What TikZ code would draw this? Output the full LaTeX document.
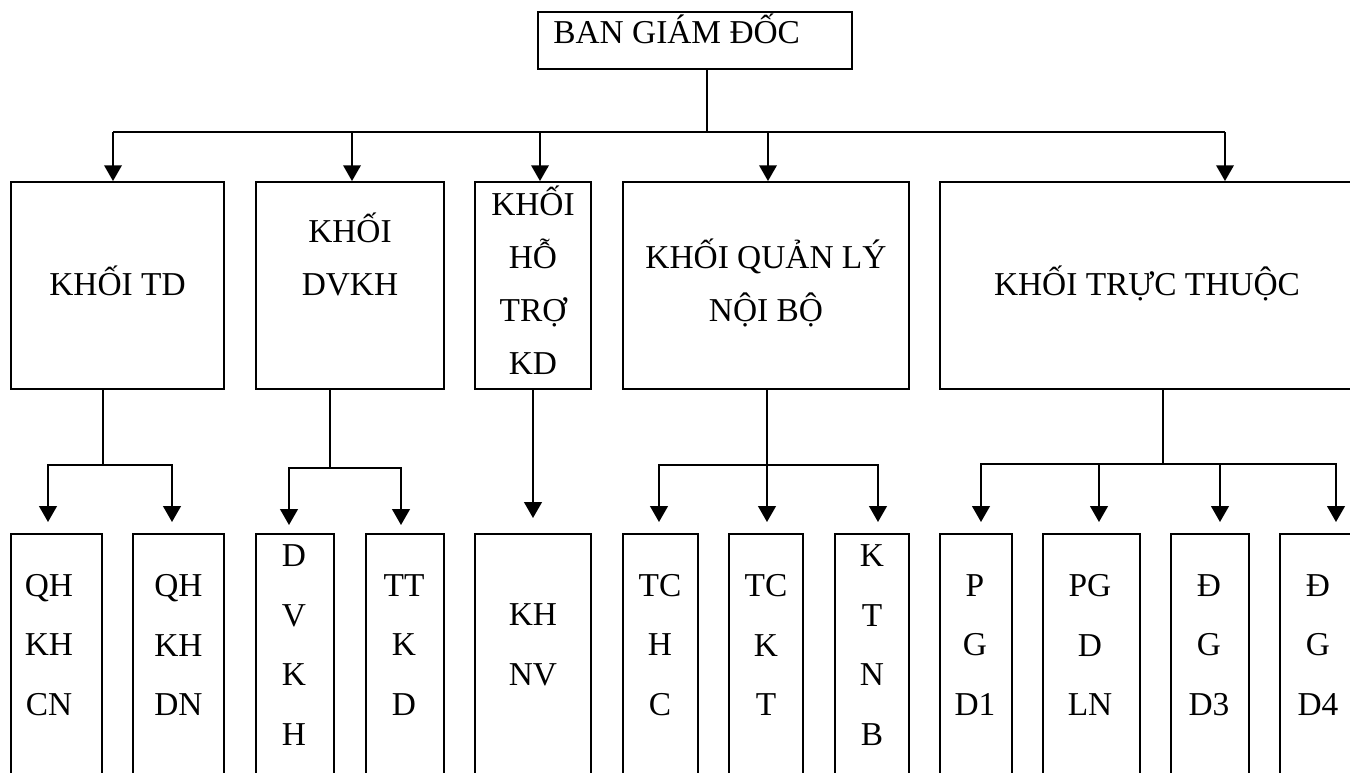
\documentclass[tikz,border=0pt]{standalone}
\usepackage{fontspec}
\setmainfont{Liberation Serif}
\usetikzlibrary{arrows.meta}

\tikzset{
  box/.style={draw, line width=1.1pt, inner sep=0pt, align=center,
    minimum height=4.14cm, font=\fontsize{19}{30}\selectfont,
    execute at end node={\rule[-6pt]{0pt}{0pt}}},
  cell/.style={draw, line width=1.1pt, inner sep=0pt, minimum height=5.72cm},
  celltext/.style={align=center, inner sep=0pt, font=\fontsize{19}{34}\selectfont},
  link/.style={line width=1.1pt},
  stem/.style={line width=0.7pt},
  arr/.style={line width=1.1pt, -{Triangle[width=10pt,length=9pt]}}
}

\begin{document}
\begin{tikzpicture}[x=0.02cm, y=-0.02cm]
\useasboundingbox (0,0) rectangle (1350,772);
\clip (0,0) rectangle (1350,772);

% Ban giam doc
\node[draw, line width=1.1pt, minimum width=6.28cm, minimum height=1.14cm] (bgd) at (695,40.5) {};
\node[anchor=base west, inner sep=0pt, font=\fontsize{19}{30}\selectfont] (bgdt) at (553,43) {BAN GIÁM ĐỐC};

% Khoi
\node[box, minimum width=4.26cm] (td) at (117.5,285.5) {KHỐI TD};
\node[box, minimum width=3.76cm] (dvkh) at (350,285.5) {KHỐI\\DVKH\\~};
\node[box, minimum width=2.32cm] (htkd) at (533,285.5) {KHỐI\\HỖ\\TRỢ\\KD};
\node[box, minimum width=5.72cm] (qlnb) at (766,285.5) {KHỐI QUẢN LÝ\\NỘI BỘ};
\node[box, minimum width=8.28cm] (tt) at (1147,285.5) {KHỐI TRỰC THUỘC};

% Phong ban
\node[cell, minimum width=1.82cm] (qhcn) at (56.5,677) {};
\node[cell, minimum width=1.82cm] (qhdn) at (178.5,677) {};
\node[cell, minimum width=1.56cm] (dvkhb) at (295,677) {};
\node[cell, minimum width=1.56cm] (ttkd) at (405,677) {};
\node[cell, minimum width=2.32cm] (khnv) at (533,677) {};
\node[cell, minimum width=1.50cm] (tchc) at (660.5,677) {};
\node[cell, minimum width=1.48cm] (tckt) at (766,677) {};
\node[cell, minimum width=1.48cm] (ktnb) at (872,677) {};
\node[cell, minimum width=1.44cm] (pgd1) at (976,677) {};
\node[cell, minimum width=1.94cm] (pgdln) at (1091.5,677) {};
\node[cell, minimum width=1.56cm] (dgd3) at (1210,677) {};
\node[cell, minimum width=1.52cm] (dgd4) at (1318,677) {};

\node[celltext] (qhcnt) at (49,645) {QH\\KH\\CN};
\node[celltext] (qhdnt) at (178.5,645) {QH\\KH\\DN};
\node[celltext] (dvkhbt) at (294,645) {D\\V\\K\\H};
\node[celltext] (ttkdt) at (404,645) {TT\\K\\D};
\node[celltext] (khnvt) at (533,645) {KH\\NV};
\node[celltext] (tchct) at (660,645) {TC\\H\\C};
\node[celltext] (tcktt) at (766,645) {TC\\K\\T};
\node[celltext] (ktnbt) at (872,645) {K\\T\\N\\B};
\node[celltext] (pgd1t) at (975,645) {P\\G\\D1};
\node[celltext] (pgdlnt) at (1090,645) {PG\\D\\LN};
\node[celltext] (dgd3t) at (1209,645) {Đ\\G\\D3};
\node[celltext] (dgd4t) at (1318,645) {Đ\\G\\D4};

% Ket noi tu ban giam doc
\coordinate (top) at (707,132);
\coordinate (d1) at (113,132);
\coordinate (d2) at (352,132);
\coordinate (d3) at (540,132);
\coordinate (d4) at (768,132);
\coordinate (d5) at (1225,132);
\draw[stem] (bgd.south -| top) -- (top);
\draw[link] (d1) -- (d5);
\draw[arr] (d1) -- (d1 |- td.north);
\draw[arr] (d2) -- (d2 |- dvkh.north);
\draw[arr] (d3) -- (d3 |- htkd.north);
\draw[arr] (d4) -- (d4 |- qlnb.north);
\draw[arr] (d5) -- (d5 |- tt.north);

% Ket noi xuong phong ban
\coordinate (j1) at (103,465);
\coordinate (t1) at (48,522);
\coordinate (t2) at (172,522);
\draw[stem] (td.south -| j1) -- (j1);
\draw[arr] (j1) -| (t1);
\draw[arr] (j1) -| (t2);

\coordinate (j2) at (330,468);
\coordinate (t3) at (289,525);
\coordinate (t4) at (401,525);
\draw[stem] (dvkh.south -| j2) -- (j2);
\draw[arr] (j2) -| (t3);
\draw[arr] (j2) -| (t4);

\coordinate (t5) at (533,518);
\draw[arr] (htkd.south -| t5) -- (t5);

\coordinate (j3) at (767,465);
\coordinate (t6) at (659,522);
\coordinate (t7) at (767,522);
\coordinate (t8) at (878,522);
\draw[stem] (qlnb.south -| j3) -- (j3);
\draw[arr] (j3) -| (t6);
\draw[arr] (j3) -- (t7);
\draw[arr] (j3) -| (t8);

\coordinate (j4) at (1163,464);
\coordinate (t9) at (981,522);
\coordinate (t10) at (1099,522);
\coordinate (t11) at (1220,522);
\coordinate (t12) at (1336,522);
\draw[stem] (tt.south -| j4) -- (j4);
\draw[arr] (j4) -| (t9);
\draw[arr] (j4) -| (t10);
\draw[arr] (j4) -| (t11);
\draw[arr] (j4) -| (t12);
\end{tikzpicture}
\end{document}
